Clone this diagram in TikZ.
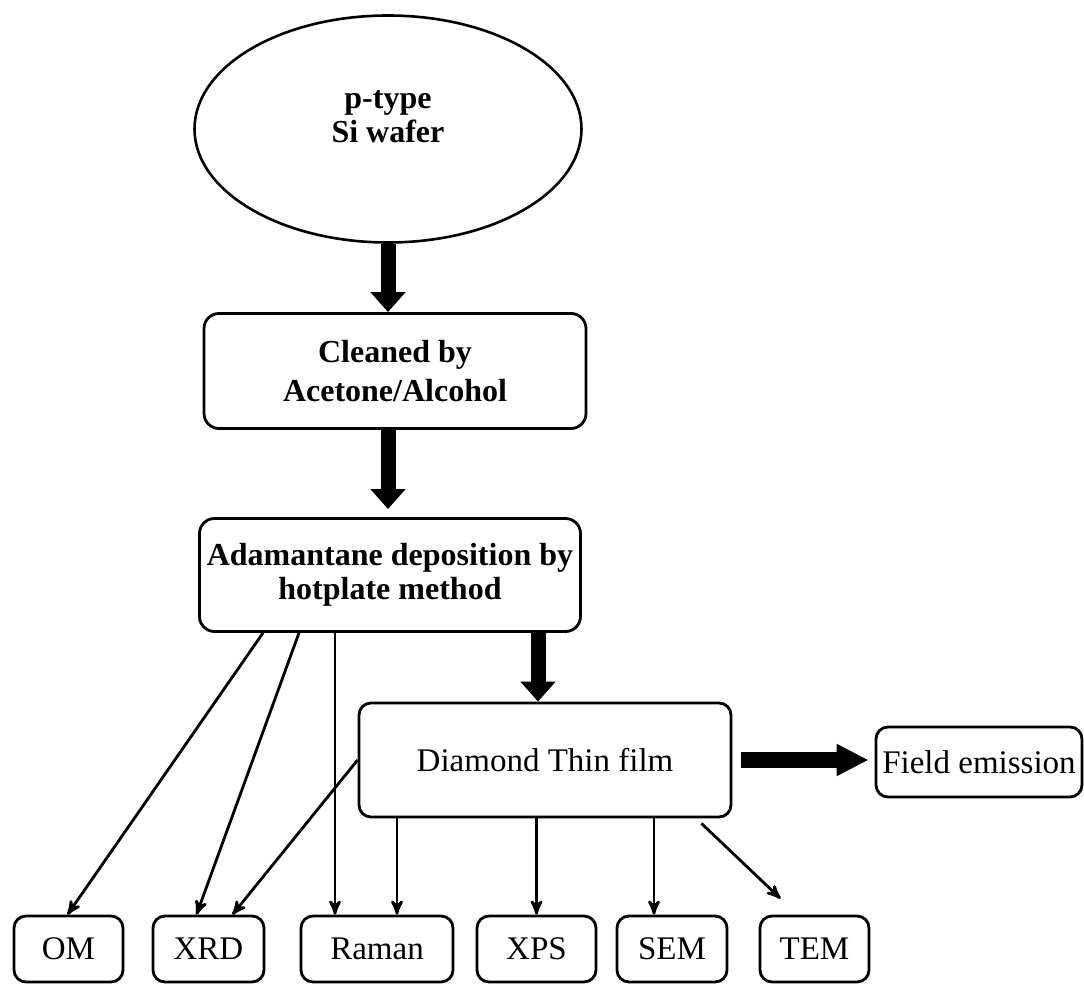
\documentclass[tikz,border=0pt]{standalone}
\usepackage{fontspec}
\setmainfont{Liberation Serif}
\usetikzlibrary{arrows, arrows.meta, shapes.geometric}
\tikzset{
  procbox/.style = {draw=black, line width=1.4pt, rounded corners=7.5pt,
    align=center, inner sep=0pt,
    font=\fontsize{16}{17}\selectfont\bfseries},
  probe/.style = {draw=black, line width=1.4pt, rounded corners=6pt,
    align=center, inner sep=0pt, font=\fontsize{16.5}{19}\selectfont},
  bigarrow/.style = {line width=7.5pt, -{Triangle[width=17pt,length=10pt]}},
  link/.style = {line width=1.4pt, ->}
}
\begin{document}
\begin{tikzpicture}[x=0.5pt, y=-0.5pt, >=stealth']
\useasboundingbox (0,0) rectangle (1084,984);
% process chain
\node [ellipse, draw=black, line width=1.3pt, minimum width=193.5pt,
  minimum height=113.5pt, inner sep=0pt, align=center, text depth=13pt,
  font=\fontsize{16}{17}\selectfont\bfseries] (wafer) at (388,129)
  {p-type\\ Si wafer};
\node [procbox, minimum width=191pt, minimum height=57.5pt,
  font=\fontsize{16}{19.5}\selectfont\bfseries] (clean) at (395,371)
  {Cleaned by\\ Acetone/Alcohol};
\node [procbox, minimum width=190.5pt, minimum height=56.5pt] (adam)
  at (390,575) {Adamantane deposition by\\ hotplate method};
\node [probe, minimum width=186pt, minimum height=57pt] (film)
  at (545,760) {Diamond Thin film};
\node [probe, minimum width=103pt, minimum height=35pt] (fe)
  at (979,762) {Field emission};
% characterisation
\foreach \name/\txt/\x/\w in {om/OM/68.5/54.5, xrd/XRD/208.5/55.5,
    raman/Raman/377/76, xps/XPS/536.5/59.5, sem/SEM/672/55,
    tem/TEM/814.5/54.5}
  \node [probe, minimum width=\w pt, minimum height=33pt] (\name)
    at (\x,949) {\txt};

\draw [bigarrow] (wafer.south) -- (wafer.south |- clean.north);
\draw [bigarrow] (clean.south -| wafer.south)
  -- ([yshift=4pt]adam.north -| wafer.south);
\draw [bigarrow] ([xshift=74pt]adam.south)
  -- ([xshift=74pt]adam.south |- film.north);
\draw [line width=8pt, -{Triangle[width=15pt,length=16pt]},
  shorten <=4.5pt, shorten >=3pt] (film.east) -- (film.east -| fe.west);

\draw [link] ([xshift=-63.5pt]adam.south) -- ([xshift=-0.5pt]om.north);
\draw [link] ([xshift=-45.5pt]adam.south) -- ([xshift=-6pt]xrd.north);
\draw [link] ([xshift=-27.5pt]adam.south)
  -- ([xshift=-27.5pt]adam.south |- raman.north);
\draw [link] (film.west) -- ([xshift=12pt]xrd.north);
\draw [link] ([xshift=10pt]raman.north |- film.south)
  -- ([xshift=10pt]raman.north);
\draw [link] (film.south -| xps.north) -- (xps.north);
\draw [link] ([xshift=-9pt]sem.north |- film.south)
  -- ([xshift=-9pt]sem.north);
\draw [link] ([xshift=-15.5pt,yshift=-2.5pt]film.south east)
  -- ([xshift=-17pt,yshift=8pt]tem.north);
\end{tikzpicture}
\end{document}
